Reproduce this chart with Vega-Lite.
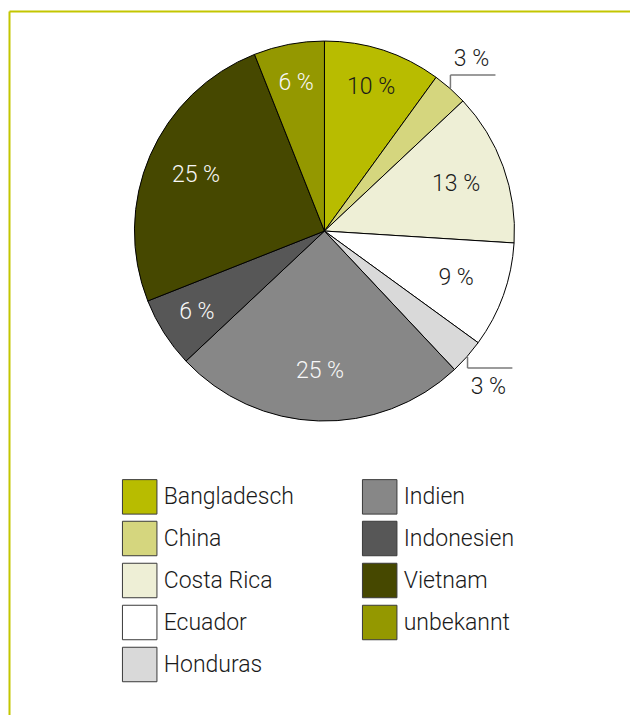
{
  "$schema": "https://vega.github.io/schema/vega-lite/v6.json",
  "autosize": {"type": "none"},
  "padding": {"left": 9, "top": 11, "right": 0, "bottom": 0},
  "width": 621,
  "height": 704,
  "background": "white",
  "config": {
    "view": {"stroke": null},
    "legend": {
      "orient": "none",
      "legendX": 112.7,
      "legendY": 467.5,
      "columns": 2,
      "padding": 0,
      "symbolType": "square",
      "symbolSize": 1190,
      "symbolStrokeColor": "#3a3a3a",
      "symbolStrokeWidth": 1,
      "labelFont": "Roboto",
      "labelFontSize": 23,
      "labelFontWeight": 300,
      "labelColor": "#1a1a1a",
      "labelOffset": 6,
      "labelLimit": 300,
      "rowPadding": 2,
      "columnPadding": 65
    }
  },
  "datasets": {
    "slices": [
      {"country": "Bangladesch", "pct": 10, "rank": 1, "label": "10 %"},
      {"country": "China", "pct": 3, "rank": 2, "label": "3 %"},
      {"country": "Costa Rica", "pct": 13, "rank": 3, "label": "13 %"},
      {"country": "Ecuador", "pct": 9, "rank": 4, "label": "9 %"},
      {"country": "Honduras", "pct": 3, "rank": 5, "label": "3 %"},
      {"country": "Indien", "pct": 25, "rank": 6, "label": "25 %"},
      {"country": "Indonesien", "pct": 6, "rank": 7, "label": "6 %"},
      {"country": "Vietnam", "pct": 25, "rank": 8, "label": "25 %"},
      {"country": "unbekannt", "pct": 6, "rank": 9, "label": "6 %"}
    ],
    "leaders": [
      {"country": "China", "label": "3 %", "x": 66.3, "yEdge": 75.3, "yElbow": 82.1, "xEnd": 90.0, "tx": 77.4, "ty": 90.8},
      {"country": "Honduras", "label": "3 %", "x": 75.3, "yEdge": -66.3, "yElbow": -72.1, "xEnd": 98.9, "tx": 86.3, "ty": -82.1}
    ]
  },
  "layer": [
    {
      "data": {"name": "slices"},
      "mark": {"type": "arc", "radius": 190, "stroke": "#000000", "strokeWidth": 1},
      "encoding": {
        "x": {"datum": 0, "type": "quantitative", "scale": {"domain": [-166, 160.8], "nice": false, "zero": false}, "axis": {"orient": "top", "title": null, "labels": false, "ticks": false, "grid": false, "domainColor": "#c3c600", "domainWidth": 2}},
        "y": {"datum": 0, "type": "quantitative", "scale": {"domain": [-254.7, 115.8], "nice": false, "zero": false}, "axis": {"orient": "left", "title": null, "labels": false, "ticks": false, "grid": false, "domainColor": "#c3c600", "domainWidth": 2}},
        "theta": {"field": "pct", "type": "quantitative", "stack": true},
        "order": {"field": "rank", "type": "quantitative"},
        "color": {
          "field": "country",
          "type": "nominal",
          "scale": {
            "domain": ["Bangladesch", "China", "Costa Rica", "Ecuador", "Honduras", "Indien", "Indonesien", "Vietnam", "unbekannt"],
            "range": ["#b8bc00", "#d5d67e", "#eeefd6", "#ffffff", "#d9d9d9", "#878787", "#575757", "#464800", "#949800"]
          },
          "legend": {"title": null}
        }
      }
    },
    {
      "data": {"name": "slices"},
      "mark": {"type": "text", "radius": 140, "font": "Roboto", "fontSize": 23, "fontWeight": 300, "align": "center", "baseline": "middle"},
      "encoding": {
        "x": {"datum": 0, "type": "quantitative"},
        "y": {"datum": 0, "type": "quantitative"},
        "theta": {"field": "pct", "type": "quantitative", "stack": true},
        "order": {"field": "rank", "type": "quantitative"},
        "detail": {"field": "country", "type": "nominal"},
        "text": {"condition": {"test": "indexof(['Costa Rica','Ecuador','Indien','Vietnam'], datum.country) < 0", "value": ""}, "field": "label", "type": "nominal"},
        "color": {"condition": {"test": "indexof(['Indien','Indonesien','Vietnam','unbekannt'], datum.country) >= 0", "value": "#f7f7f7"}, "value": "#1a1a1a"}
      }
    },
    {
      "data": {"name": "slices"},
      "mark": {"type": "text", "radius": 151, "font": "Roboto", "fontSize": 23, "fontWeight": 300, "align": "center", "baseline": "middle"},
      "encoding": {
        "x": {"datum": 0, "type": "quantitative"},
        "y": {"datum": 0, "type": "quantitative"},
        "theta": {"field": "pct", "type": "quantitative", "stack": true},
        "order": {"field": "rank", "type": "quantitative"},
        "detail": {"field": "country", "type": "nominal"},
        "text": {"condition": {"test": "indexof(['Bangladesch','Indonesien','unbekannt'], datum.country) < 0", "value": ""}, "field": "label", "type": "nominal"},
        "color": {"condition": {"test": "indexof(['Indien','Indonesien','Vietnam','unbekannt'], datum.country) >= 0", "value": "#f7f7f7"}, "value": "#1a1a1a"}
      }
    },
    {
      "data": {"name": "leaders"},
      "mark": {"type": "rule", "stroke": "#7a7a7a", "strokeWidth": 1.5},
      "encoding": {
        "x": {"field": "x", "type": "quantitative"},
        "y": {"field": "yEdge", "type": "quantitative"},
        "y2": {"field": "yElbow"}
      }
    },
    {
      "data": {"name": "leaders"},
      "mark": {"type": "rule", "stroke": "#7a7a7a", "strokeWidth": 1.5},
      "encoding": {
        "x": {"field": "x", "type": "quantitative"},
        "x2": {"field": "xEnd"},
        "y": {"field": "yElbow", "type": "quantitative"}
      }
    },
    {
      "data": {"name": "leaders"},
      "mark": {"type": "text", "font": "Roboto", "fontSize": 23, "fontWeight": 300, "align": "center", "baseline": "middle", "color": "#1a1a1a"},
      "encoding": {
        "x": {"field": "tx", "type": "quantitative"},
        "y": {"field": "ty", "type": "quantitative"},
        "text": {"field": "label", "type": "nominal"}
      }
    }
  ]
}
